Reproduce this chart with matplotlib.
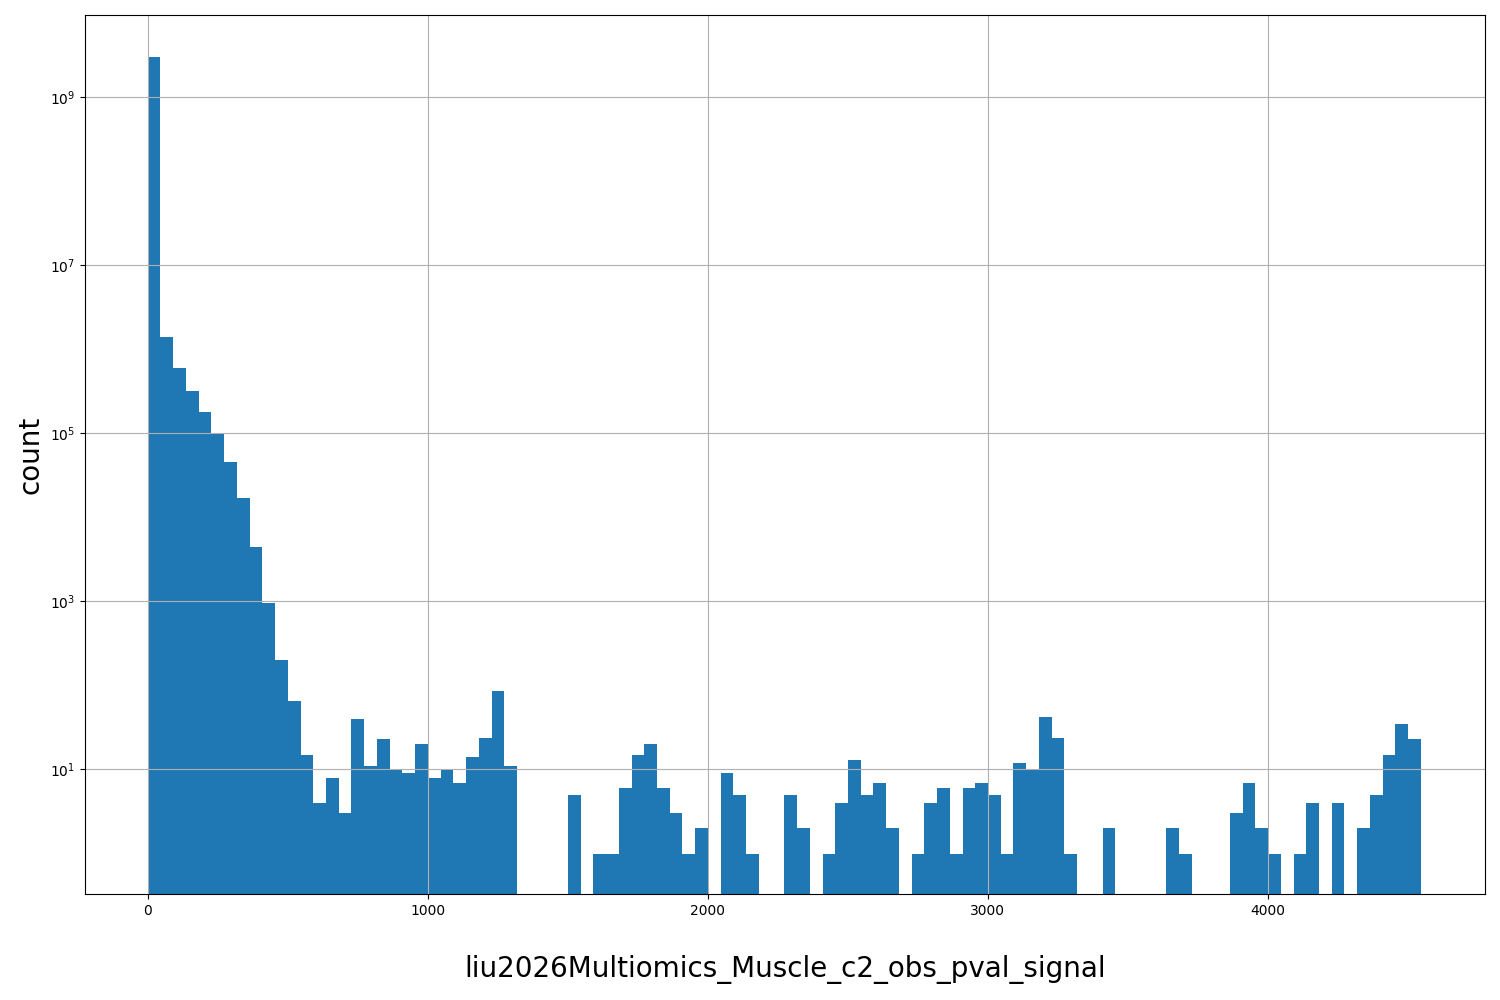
import numpy as np
import matplotlib.pyplot as plt

# histogram counts (100 bins, 0 empty)
counts = [3e9, 1.4e6, 6e5, 3.2e5, 1.8e5, 1e5, 4.5e4, 1.7e4, 4500, 950,
          200, 66, 15, 4, 8, 3, 40, 11, 23, 10,
          9, 20, 8, 10, 7, 14, 24, 85, 11, 0,
          0, 0, 0, 5, 0, 1, 1, 6, 15, 20,
          6, 3, 1, 2, 0, 9, 5, 1, 0, 0,
          5, 2, 0, 1, 4, 13, 5, 7, 2, 0,
          1, 4, 6, 1, 6, 7, 5, 1, 12, 10,
          42, 24, 1, 0, 0, 2, 0, 0, 0, 0,
          2, 1, 0, 0, 0, 3, 7, 2, 1, 0,
          1, 4, 0, 4, 0, 2, 5, 15, 35, 23]
x_min, x_max = 0, 4546
n_bins = len(counts)

edges = np.linspace(x_min, x_max, n_bins + 1)
centers = (edges[:-1] + edges[1:]) / 2

fig = plt.figure(figsize=(15, 10), dpi=100)
ax = fig.add_axes([0.0565, 0.106, 0.9335, 0.879])
ax.hist(centers, bins=edges, weights=counts, color='#1f77b4')
ax.set_yscale('log')
ax.set_ylim(0.33, 9.5e9)
ax.set_xlim(-225, 4775)
ax.grid(True)
ax.set_xlabel("liu2026Multiomics_Muscle_c2_obs_pval_signal", fontsize=20, labelpad=27)
ax.set_ylabel("count", fontsize=20)
fig.savefig("out.png", dpi=100)
